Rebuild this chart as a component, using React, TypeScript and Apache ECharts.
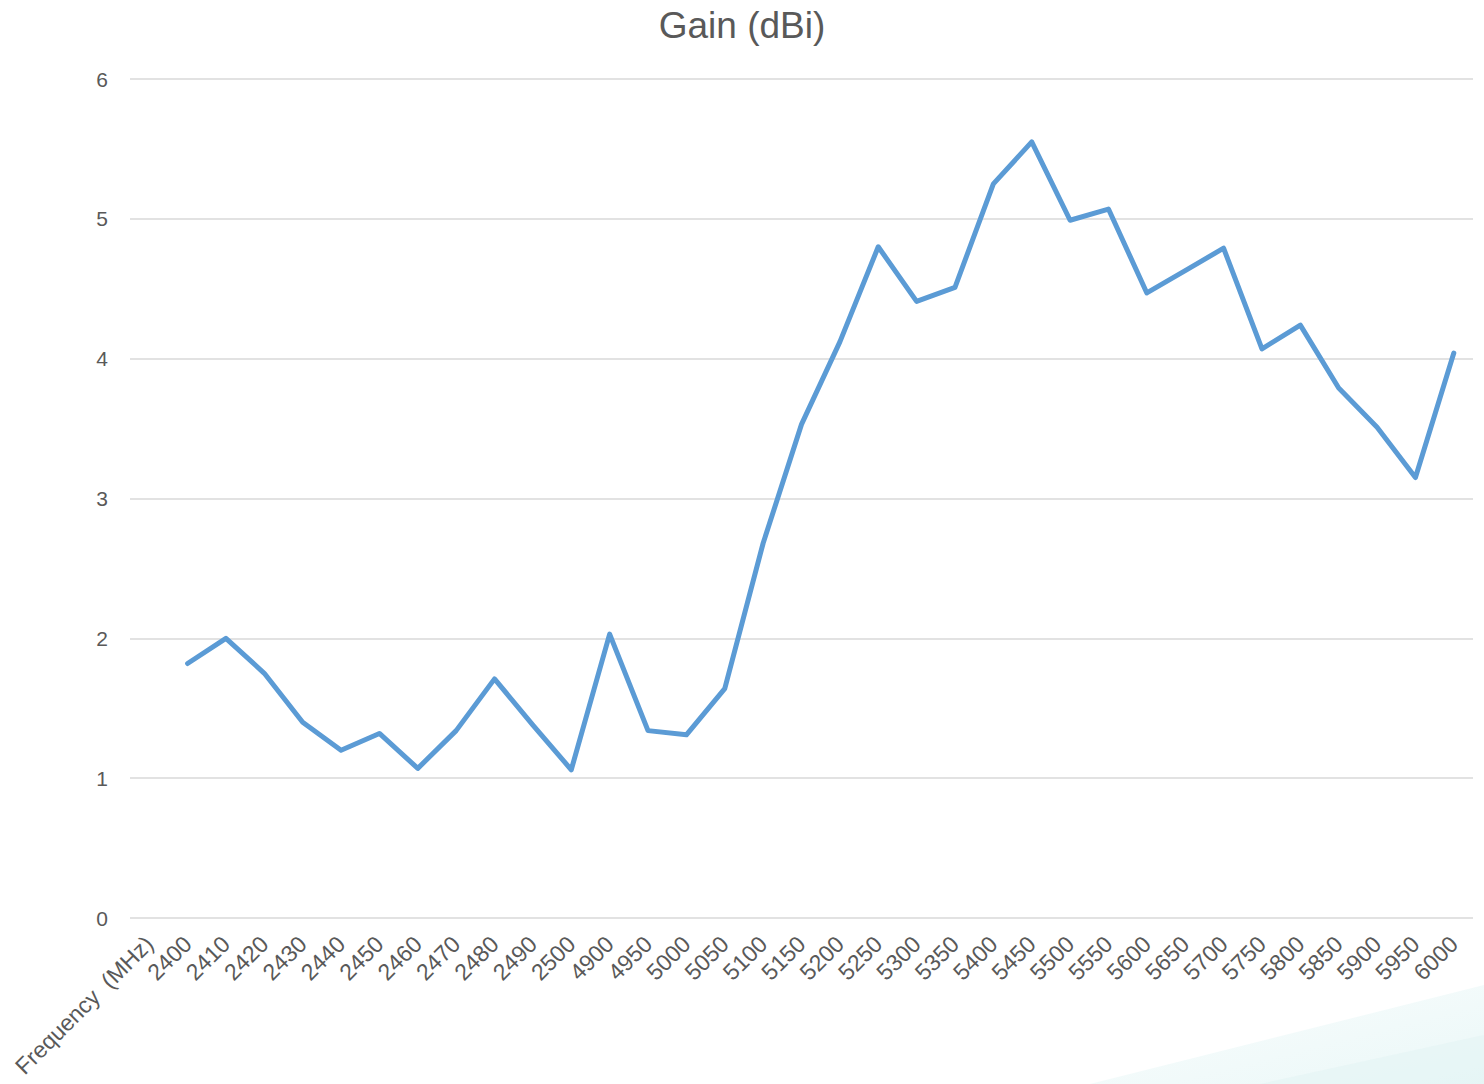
import React, { useEffect, useRef } from "react";
import * as echarts from "echarts";

const categories = [
  "Frequency  (MHz)",
  "2400", "2410", "2420", "2430", "2440", "2450", "2460", "2470", "2480", "2490", "2500",
  "4900", "4950", "5000", "5050", "5100", "5150", "5200", "5250", "5300", "5350", "5400",
  "5450", "5500", "5550", "5600", "5650", "5700", "5750", "5800", "5850", "5900", "5950", "6000",
];

const gainValues: (number | null)[] = [
  null,
  1.82, 2.0, 1.75, 1.4, 1.2, 1.32, 1.07, 1.34, 1.71, 1.38, 1.06,
  2.03, 1.34, 1.31, 1.64, 2.68, 3.53, 4.12, 4.8, 4.41, 4.51, 5.25,
  5.55, 4.99, 5.07, 4.47, 4.63, 4.79, 4.07, 4.24, 3.79, 3.51, 3.15, 4.04,
];

const yTicks = { min: 0, max: 6, interval: 1 };

export default function App() {
  const ref = useRef<HTMLDivElement>(null);
  useEffect(() => {
    if (!ref.current) return;
    const chart = echarts.init(ref.current, undefined, { renderer: "svg" });
    const font = "'Liberation Sans', Arial, Helvetica, sans-serif";
    chart.setOption({
      animation: false,
      backgroundColor: "#ffffff",
      textStyle: { fontFamily: font },
      title: {
        text: "Gain (dBi)",
        left: "center",
        top: 2,
        textStyle: { fontFamily: font, fontSize: 37, fontWeight: "normal", color: "#595959" },
      },
      graphic: [
        {
          type: "polygon",
          silent: true,
          z: -10,
          shape: { points: [[1090, 1084], [1484, 985], [1484, 1084]] },
          style: {
            fill: new echarts.graphic.LinearGradient(0, 0, 1, 1, [
              { offset: 0, color: "rgba(235,248,248,0.3)" },
              { offset: 1, color: "rgba(225,244,244,0.7)" },
            ]),
          },
        },
        {
          type: "polygon",
          silent: true,
          z: -9,
          shape: { points: [[1260, 1084], [1484, 1035], [1484, 1084]] },
          style: { fill: "rgba(225,244,244,0.5)" },
        },
      ],
      grid: { left: 130, right: 11, top: 79, bottom: 166, containLabel: false },
      xAxis: {
        type: "category",
        data: categories,
        boundaryGap: true,
        axisLine: { show: false },
        axisTick: { show: false },
        axisLabel: {
          rotate: 45,
          interval: 0,
          margin: 22,
          fontSize: 23,
          color: "#595959",
          fontFamily: font,
        },
      },
      yAxis: {
        type: "value",
        min: yTicks.min,
        max: yTicks.max,
        interval: yTicks.interval,
        axisLine: { show: false },
        axisTick: { show: false },
        axisLabel: { fontSize: 21, color: "#595959", margin: 22, fontFamily: font },
        splitLine: { lineStyle: { color: "#d9d9d9", width: 1.5 } },
      },
      series: [
        {
          type: "line",
          data: gainValues,
          showSymbol: false,
          symbol: "none",
          connectNulls: false,
          lineStyle: { color: "#5B9BD5", width: 5, cap: "round", join: "round" },
          itemStyle: { color: "#5B9BD5" },
        },
      ],
    });
    return () => chart.dispose();
  }, []);
  return (
    <div
      ref={ref}
      style={{ position: "absolute", left: 0, top: 0, width: 1484, height: 1084 }}
    />
  );
}
